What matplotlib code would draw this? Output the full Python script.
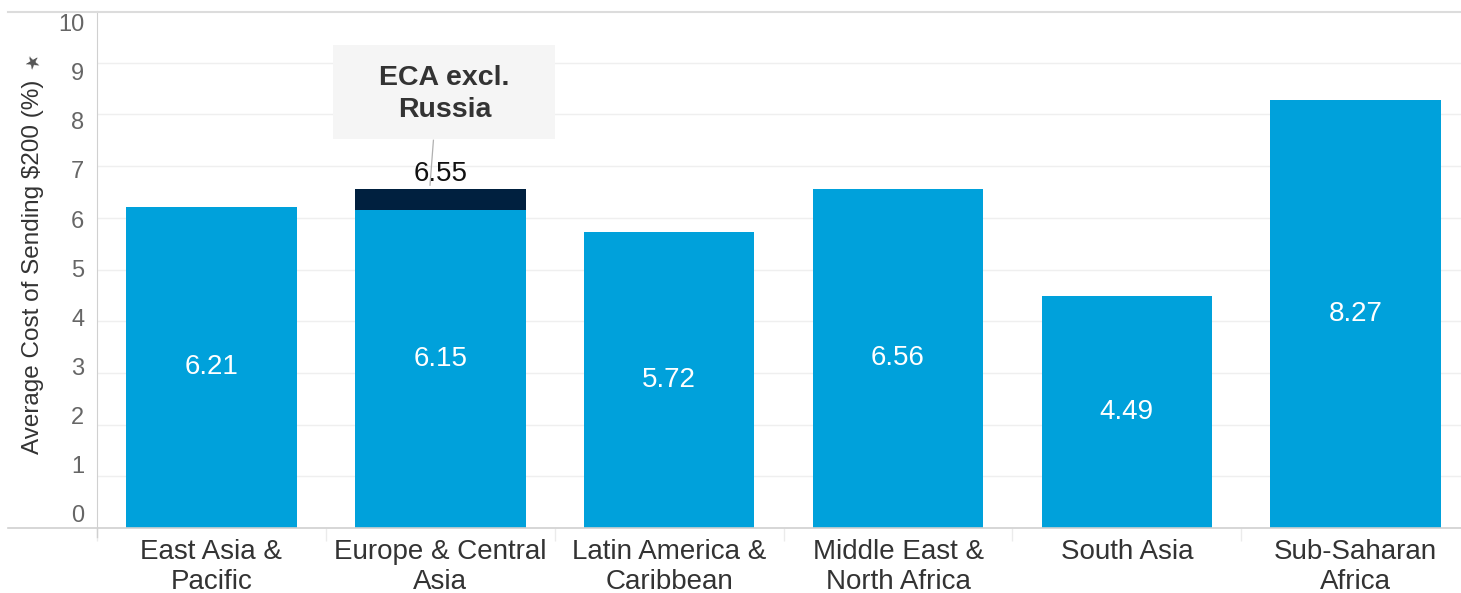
import matplotlib.pyplot as plt
from matplotlib.lines import Line2D
from matplotlib.patches import Rectangle
from matplotlib.transforms import ScaledTranslation

plt.rcParams['font.family'] = ['Liberation Sans', 'DejaVu Sans']

regions = ["East Asia &\nPacific", "Europe & Central\nAsia", "Latin America &\nCaribbean",
           "Middle East &\nNorth Africa", "South Asia", "Sub-Saharan\nAfrica"]
costs = [6.21, 6.15, 5.72, 6.56, 4.49, 8.27]
# ECA excluding Russia (stacked on top of ECA bar)
eca_idx = 1
eca_excl = 6.55
yticks = list(range(0, 11))

blue = "#00a1db"
navy = "#00203f"
grid_c = "#efefef"
axis_c = "#d0d0d0"

fig = plt.figure(figsize=(14.61, 5.93), dpi=100)
W, H = 1461, 593
ax = fig.add_axes([97 / W, (H - 528) / H, (W - 97) / W, (528 - 11) / H])

x = list(range(len(regions)))
ax.bar(x, costs, width=0.745, color=blue, zorder=3)
ax.bar(eca_idx, eca_excl - costs[eca_idx], bottom=costs[eca_idx], width=0.745,
       color=navy, zorder=3)

# labels inside bars
for i, v in enumerate(costs):
    top = eca_excl if i == eca_idx else v
    ax.text(i, top / 2, f"{v:.2f}", ha="center", va="center", color="white",
            fontsize=20, zorder=4)
ax.text(eca_idx, eca_excl + 0.05, f"{eca_excl:.2f}", ha="center", va="bottom",
        color="#111111", fontsize=20, zorder=5)

# annotation box
ax.add_patch(Rectangle((eca_idx + 0.533 - 1, 7.52), 0.97, 1.83, facecolor="#f5f5f5",
                       edgecolor="none", zorder=4))
ax.text(eca_idx + 0.018, 8.4, "ECA excl.\nRussia", ha="center", va="center",
        fontsize=20.5, fontweight="bold", color="#333333", linespacing=1.3, zorder=5)
ax.plot([eca_idx - 0.03, eca_idx - 0.045], [7.5, eca_excl + 0.08], color="#b0b0b0",
        lw=0.9, zorder=6)

ax.set_xlim(-0.5, 5.46)
ax.set_ylim(0, 10)
ax.set_yticks(yticks)
ax.set_yticklabels([str(t) for t in yticks], fontsize=17, color="#666666")
ax.yaxis.grid(True, color=grid_c, lw=1, zorder=0)
ax.tick_params(axis="y", length=0, pad=9)

# tableau squeezes tick labels a bit
for t, lab in zip(yticks, ax.get_yticklabels()):
    off = -14 + 2.55 * t
    lab.set_transform(lab.get_transform() + ScaledTranslation(0, -off / 100, fig.dpi_scale_trans))

ax.set_xticks(x)
ax.set_xticklabels(regions, fontsize=20, color="#333333", linespacing=1.2)
ax.tick_params(axis="x", which="major", length=0, pad=8)
ax.set_xticks([i - 0.5 for i in x], minor=True)
ax.tick_params(axis="x", which="minor", length=9, color="#ebebeb", width=1)

ax.set_ylabel("Average Cost of Sending $200 (%)", fontsize=17.5, color="#333333")
ax.yaxis.set_label_coords(-0.039, 0.505)
# pin icon after the axis title
ax.text(-0.047, 0.90, "\u2605", transform=ax.transAxes, rotation=30, ha="center",
        va="center", fontsize=13, color="#555555", family="DejaVu Sans")

for s in ["top", "right", "bottom"]:
    ax.spines[s].set_visible(False)
ax.spines["left"].set_color(axis_c)
ax.spines["left"].set_bounds(0, 10)

# top border and baseline across the figure
fig.add_artist(Line2D([8 / W, 1], [1 - 12 / H, 1 - 12 / H], color="#dcdcdc", lw=1.5))
fig.add_artist(Line2D([8 / W, 1], [1 - 528 / H, 1 - 528 / H], color=axis_c, lw=1.2))
fig.add_artist(Line2D([97 / W, 97 / W], [1 - 537 / H, 1 - 528 / H], color=axis_c, lw=1))

fig.savefig("out.png", dpi=100)
